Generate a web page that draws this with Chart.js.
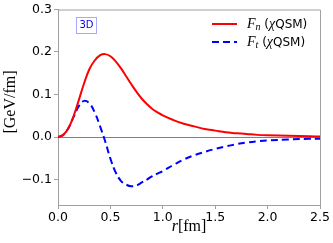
<!DOCTYPE html>
<html>
<head>
<meta charset="utf-8">
<script src="https://cdn.jsdelivr.net/npm/chart.js@4"></script>
<style>
html,body{margin:0;padding:0;background:#fff;}
#wrap{width:333px;height:243px;position:relative;}
</style>
</head>
<body>
<div id="wrap"><canvas id="c" width="333" height="243"></canvas></div>
<script>
const rValues = [0,0.05,0.1,0.15,0.2,0.25,0.3,0.35,0.4,0.45,0.5,0.55,0.6,0.65,0.7,0.75,0.8,0.85,0.9,0.95,1.0,1.1,1.2,1.3,1.4,1.5,1.6,1.7,1.8,1.9,2.0,2.2,2.4,2.5];
const fnValues = [0,0.005,0.021,0.050,0.088,0.127,0.160,0.180,0.192,0.195,0.190,0.178,0.162,0.143,0.124,0.106,0.090,0.077,0.066,0.058,0.051,0.040,0.031,0.025,0.019,0.015,0.011,0.009,0.007,0.005,0.004,0.003,0.002,0.001];
const ftValues = [0,0.005,0.021,0.048,0.073,0.085,0.079,0.058,0.026,-0.010,-0.051,-0.083,-0.103,-0.112,-0.116,-0.114,-0.107,-0.100,-0.092,-0.086,-0.080,-0.066,-0.053,-0.043,-0.035,-0.028,-0.022,-0.017,-0.013,-0.010,-0.008,-0.006,-0.004,-0.004];
const xTicks = [0,0.5,1.0,1.5,2.0,2.5];
const yTicks = [-0.1,0,0.1,0.2,0.3];
const seriesLabels = ['F_n (χQSM)','F_t (χQSM)'];
const boxLabel = '3D';

const sansFont = '"DejaVu Sans", sans-serif';
const serifFont = '"Liberation Serif", "DejaVu Serif", serif';

function fmt(v){
  if (Math.abs(v) < 1e-9) return '0.0';
  return (v < 0 ? '\u2212' : '') + Math.abs(v).toFixed(1);
}

function drawRich(ctx, x, y, parts){
  let cx = x;
  for (const p of parts){
    ctx.font = p.font;
    ctx.fillText(p.text, cx, y + (p.dy || 0));
    cx += ctx.measureText(p.text).width;
  }
}

const decor = {
  id: 'decor',
  beforeDatasetsDraw(chart){
    const {ctx, chartArea:a, scales:{y}} = chart;
    const y0 = Math.round(y.getPixelForValue(0)) + 0.5;
    ctx.save();
    ctx.strokeStyle = '#808080';
    ctx.lineWidth = 1;
    ctx.beginPath(); ctx.moveTo(a.left, y0); ctx.lineTo(a.right, y0); ctx.stroke();
    ctx.restore();
  },
  afterDraw(chart){
    const {ctx, chartArea:a} = chart;
    ctx.save();
    ctx.strokeStyle = '#a0a0a0';
    ctx.lineWidth = 1;
    ctx.beginPath();
    ctx.moveTo(a.left, a.top + 0.5); ctx.lineTo(a.right + 0.5, a.top + 0.5);
    ctx.lineTo(a.right + 0.5, a.bottom);
    ctx.stroke();
    ctx.strokeStyle = '#a8a8ff';
    ctx.strokeRect(76.5, 17.5, 20, 16);
    ctx.fillStyle = '#0000ff';
    ctx.font = '10px ' + sansFont;
    ctx.textAlign = 'center';
    ctx.textBaseline = 'middle';
    ctx.fillText(boxLabel, 86.5, 25.5);
    const ds = chart.data.datasets;
    const rows = [24, 42];
    ctx.textAlign = 'left';
    ctx.textBaseline = 'alphabetic';
    rows.forEach((ry, i) => {
      ctx.strokeStyle = ds[i].borderColor;
      ctx.lineWidth = 2;
      ctx.setLineDash(ds[i].borderDash || []);
      ctx.beginPath(); ctx.moveTo(212, ry); ctx.lineTo(237, ry); ctx.stroke();
      ctx.setLineDash([]);
      ctx.fillStyle = '#000';
      const lab = seriesLabels[i];
      const sub = lab.charAt(2);
      drawRich(ctx, 247, ry + 4, [
        {text:'F', font:'italic 14px ' + serifFont},
        {text:sub, font:'italic 10px ' + serifFont, dy:2},
        {text:' (', font:'12px ' + sansFont},
        {text:'χ', font:'italic 14px ' + serifFont},
        {text:'QSM)', font:'12px ' + sansFont}
      ]);
    });
    ctx.fillStyle = '#000';
    ctx.font = '16px ' + serifFont;
    ctx.save();
    ctx.translate(15, 102);
    ctx.rotate(-Math.PI/2);
    ctx.textAlign = 'center';
    ctx.fillText('[GeV/fm]', 0, 0);
    ctx.restore();
    ctx.font = 'italic 16px ' + serifFont;
    const w1 = ctx.measureText('r').width;
    ctx.font = '16px ' + serifFont;
    const w2 = ctx.measureText('[fm]').width;
    const sx = (a.left + a.right)/2 - (w1 + w2)/2;
    drawRich(ctx, sx, 231, [
      {text:'r', font:'italic 16px ' + serifFont},
      {text:'[fm]', font:'16px ' + serifFont}
    ]);
    ctx.restore();
  }
};

new Chart(document.getElementById('c'), {
  type: 'line',
  data: {
    datasets: [
      {
        label: seriesLabels[0],
        data: rValues.map((r,i)=>({x:r, y:fnValues[i]})),
        borderColor: '#ff0000',
        borderWidth: 2,
        pointRadius: 0,
        tension: 0.4,
        fill: false
      },
      {
        label: seriesLabels[1],
        data: rValues.map((r,i)=>({x:r, y:ftValues[i]})),
        borderColor: '#0000ff',
        borderWidth: 2,
        borderDash: [7,4],
        pointRadius: 0,
        tension: 0.4,
        fill: false
      }
    ]
  },
  options: {
    responsive: false,
    animation: false,
    devicePixelRatio: 1,
    layout: {padding: {top: 7, right: 13, left: 0, bottom: 0}},
    plugins: {legend: {display:false}, tooltip: {enabled:false}},
    scales: {
      x: {
        type: 'linear', min: 0, max: 2.5,
        afterBuildTicks: s => { s.ticks = xTicks.map(v=>({value:v})); },
        afterFit: s => { s.height = 38; },
        grid: {display:true, drawOnChartArea:false, drawTicks:true, tickLength:4, color:'#a0a0a0'},
        border: {display:true, color:'#a0a0a0', width:1},
        ticks: {color:'#000', font:{family:sansFont, size:12.5}, padding:1, maxRotation:0, callback: v => fmt(v)}
      },
      y: {
        type: 'linear', min: -0.16, max: 0.3,
        afterBuildTicks: s => { s.ticks = yTicks.map(v=>({value:v})); },
        afterFit: s => { s.width = 58; },
        grid: {display:true, drawOnChartArea:false, drawTicks:true, tickLength:4, color:'#a0a0a0'},
        border: {display:true, color:'#a0a0a0', width:1},
        ticks: {color:'#000', font:{family:sansFont, size:12.5}, padding:2, callback: v => fmt(v)}
      }
    }
  },
  plugins: [decor]
});
</script>
</body>
</html>
